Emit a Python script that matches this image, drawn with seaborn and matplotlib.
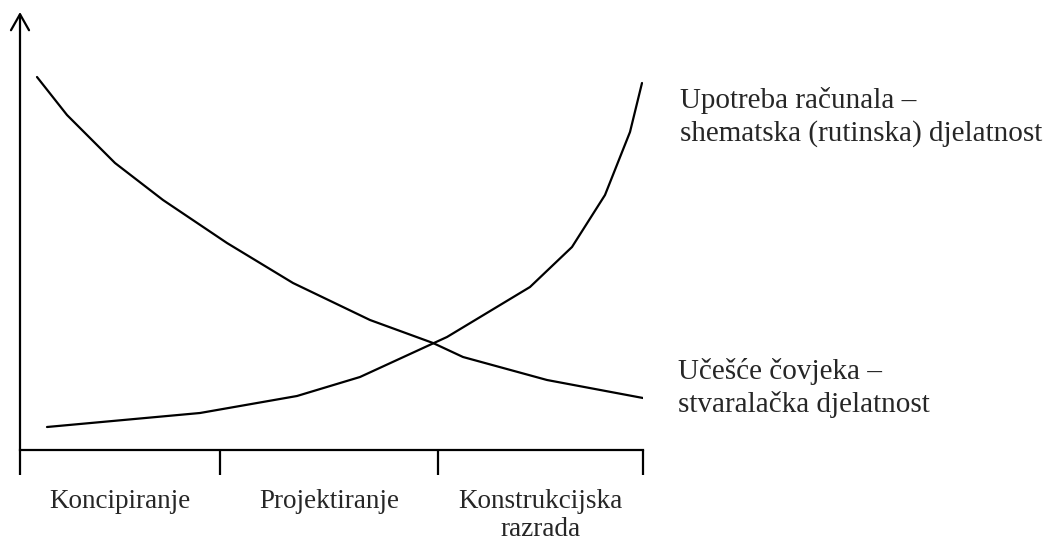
import matplotlib
matplotlib.use("Agg")
import matplotlib.pyplot as plt
import seaborn as sns
import pandas as pd

# ---- data ----
phases = ["Koncipiranje", "Projektiranje", "Konstrukcijska\nrazrada"]
phase_bounds = [0, 200, 418, 623]

human_x = [17, 47, 95, 143, 207, 273, 350, 413, 443, 527, 623]
human_y = [373, 335, 287, 250, 207, 167, 130, 107, 93, 70, 52]

computer_x = [27, 180, 277, 340, 427, 510, 552, 585, 610, 622]
computer_y = [23, 37, 54, 73, 113, 163, 203, 255, 318, 367]

label_human = "Učešće čovjeka –\nstvaralačka djelatnost"
label_computer = "Upotreba računala –\nshematska (rutinska) djelatnost"

# ---- build long-form table ----
df = pd.concat([
    pd.DataFrame({"faza": human_x, "udio": human_y, "serija": "covjek"}),
    pd.DataFrame({"faza": computer_x, "udio": computer_y, "serija": "racunalo"}),
], ignore_index=True)

sns.set_style("white")
plt.rcParams["font.family"] = ["Liberation Serif", "DejaVu Serif"]

W, H = 1049, 544
fig = plt.figure(figsize=(W / 100, H / 100), dpi=100)
ax = fig.add_axes([20 / W, (H - 450) / H, (643 - 20) / W, (450 - 12) / H])

sns.lineplot(data=df, x="faza", y="udio", hue="serija", units="serija",
             estimator=None, sort=False, palette={"covjek": "black", "racunalo": "black"},
             linewidth=1.6, legend=False, ax=ax)

ax.set_xlim(phase_bounds[0], phase_bounds[-1])
ax.set_ylim(0, 438)
ax.set_xlabel("")
ax.set_ylabel("")

for s in ["top", "right", "left"]:
    ax.spines[s].set_visible(False)
ax.spines["bottom"].set_linewidth(1.6)
ax.spines["bottom"].set_color("black")

# boundary ticks (major), labels centred between them (minor)
ax.set_xticks(phase_bounds)
ax.set_xticklabels([])
centers = [(a + b) / 2 for a, b in zip(phase_bounds[:-1], phase_bounds[1:])]
ax.set_xticks(centers, minor=True)
ax.set_xticklabels(phases, minor=True, fontsize=19.5, linespacing=1.18)
ax.tick_params(axis="x", which="major", bottom=True, direction="out", length=18, width=1.6,
               color="black")
ax.tick_params(axis="x", which="minor", bottom=True, length=0, pad=28)
ax.set_yticks([])

# y axis with open arrow head
ax.annotate("", xy=(0, 1.0), xycoords="axes fraction", xytext=(0, 0), textcoords="axes fraction",
            arrowprops=dict(arrowstyle="->,head_length=1.15,head_width=0.65", lw=1.6, color="black",
                            shrinkA=0, shrinkB=0), annotation_clip=False)

# series labels
ax.text(660, 333, label_computer, fontsize=21, va="center", ha="left", linespacing=1.3)
ax.text(658, 62, label_human, fontsize=21, va="center", ha="left", linespacing=1.3)

fig.savefig("out.png", dpi=100)
